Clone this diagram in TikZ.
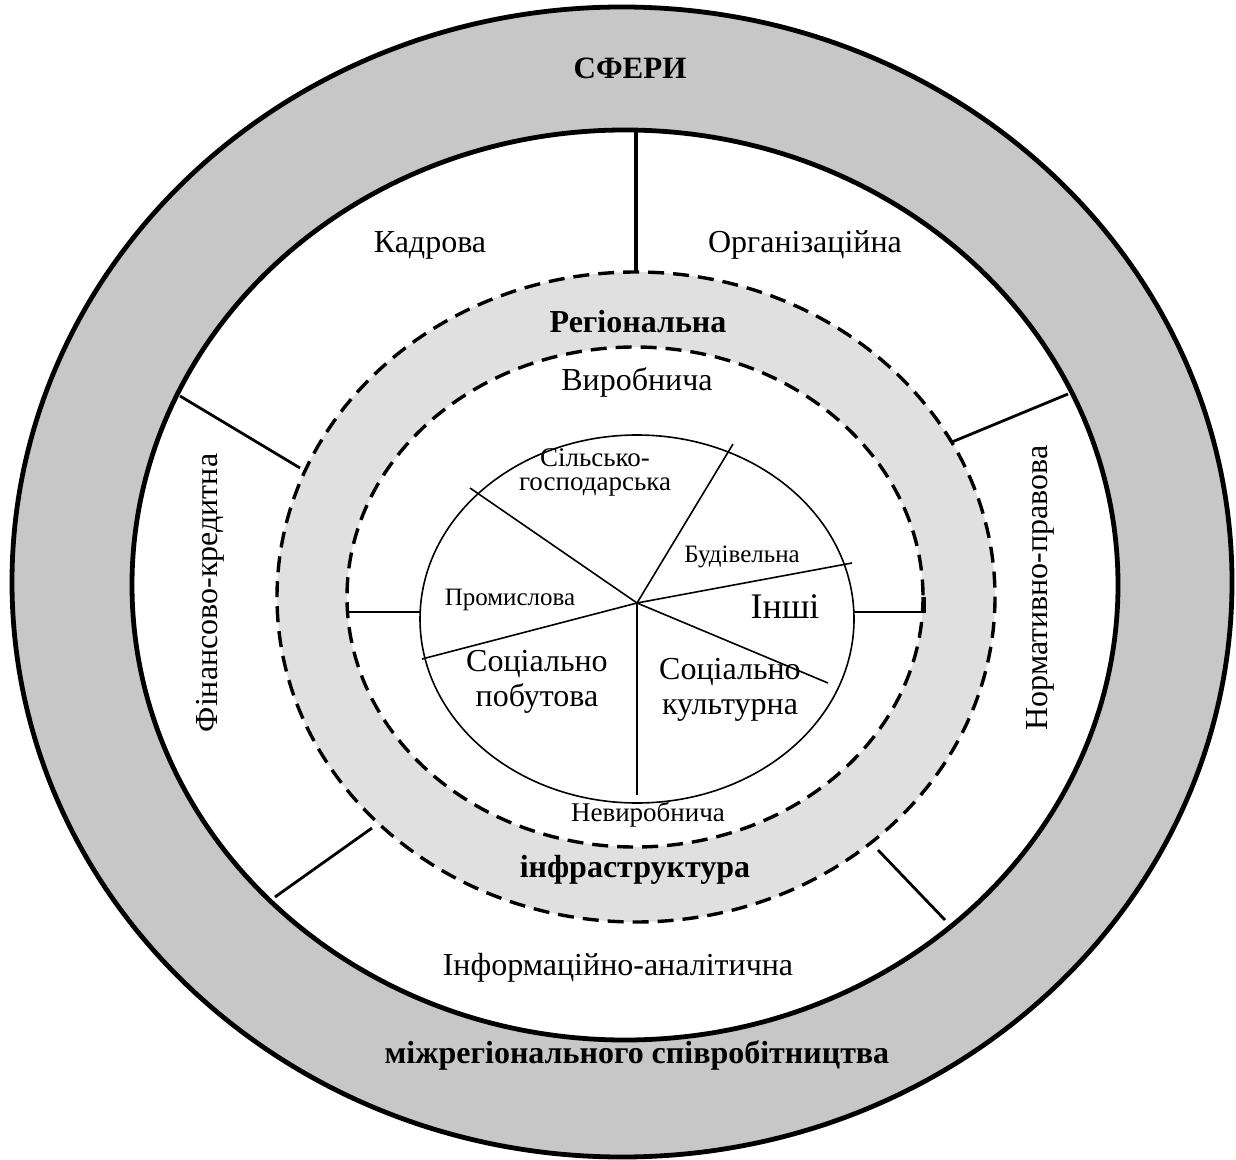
\documentclass[tikz,border=0pt]{standalone}
\usepackage{fontspec}
\setmainfont{Liberation Serif}
\usetikzlibrary{positioning}

\begin{document}
\begin{tikzpicture}[
    x=0.5pt, y=-0.5pt,
    ring/.style={line width=2.4pt, draw=black},
    dashring/.style={line width=1.7pt, draw=black, dash pattern=on 8pt off 4.5pt},
    divider/.style={line width=1.4pt},
    slice/.style={line width=0.8pt},
    txt/.style={font=\fontsize{16}{17.5}\selectfont, align=center, inner sep=1pt},
    heading/.style={font=\fontsize{16}{17.5}\selectfont\bfseries, inner sep=1pt},
    smalltxt/.style={font=\fontsize{12.5}{12}\selectfont, align=center, inner sep=1pt}
]
\useasboundingbox (0,0) rectangle (1236,1160);

% Rings, from outside in
\filldraw[ring, fill=black!22] (622,582) ellipse [x radius=610, y radius=575];
\filldraw[ring, fill=white] (625,585) ellipse [x radius=493, y radius=455];
\filldraw[dashring, fill=black!12] (636,597) ellipse [x radius=359, y radius=325];
\filldraw[dashring, fill=white] (635,597) ellipse [x radius=288, y radius=250];
\filldraw[slice, fill=white] (637,619) ellipse [x radius=217, y radius=184];

% Pie of branches
\coordinate (hub) at (637,603);
\draw[slice] (hub) -- (733,444);
\draw[slice] (hub) -- (470,488);
\draw[slice] (hub) -- (852,563);
\draw[slice] (hub) -- (828,683);
\draw[slice] (hub) -- (637,795);
\draw[slice] (hub) -- (422,659);

% Sector dividers
\draw[divider, line width=2pt] (636,130) -- (636,273);
\draw[divider] (180,396) -- (300,468);
\draw[divider] (1068,394) -- (952,442) -- (945,432);
\draw[divider] (348,612) -- (420,612);
\draw[divider] (853,612) -- (925,612) -- (925,597);
\draw[divider] (275,897) -- (372,828);
\draw[divider] (945,920) -- (878,850);

% Texts
\node[heading, font=\fontsize{15.5}{17}\selectfont\bfseries] (spheres) at (630,68) {СФЕРИ};
\node[txt] (staff) at (430,245) {Кадрова};
\node[txt] (org) at (805,245) {Організаційна};
\node[heading] (regional) at (638,322) {Регіональна};
\node[txt] (prod) at (637,382) {Виробнича};
\node[smalltxt, font=\fontsize{13.5}{12}\selectfont] (agri) at (595,472) {Сільсько-\\господарська};
\node[smalltxt] (build) at (742,557) {Будівельна};
\node[smalltxt] (ind) at (510,600) {Промислова};
\node[txt, font=\fontsize{18}{20}\selectfont] (other) at (785,607) {Інші};
\node[txt] (domestic) at (537,682) {Соціально\\побутова};
\node[txt] (culture) at (730,690) {Соціально\\культурна};
\node[txt, font=\fontsize{13.5}{15}\selectfont] (nonprod) at (648,815) {Невиробнича};
\node[heading] (infra) at (635,870) {інфраструктура};
\node[txt] (info) at (618,968) {Інформаційно-аналітична};
\node[heading] (inter) at (637,1055) {міжрегіонального співробітництва};
\node[txt, rotate=90] (finance) at (210,593) {Фінансово-кредитна};
\node[txt, rotate=90] (legal) at (1040,588) {Нормативно-правова};

\end{tikzpicture}
\end{document}
